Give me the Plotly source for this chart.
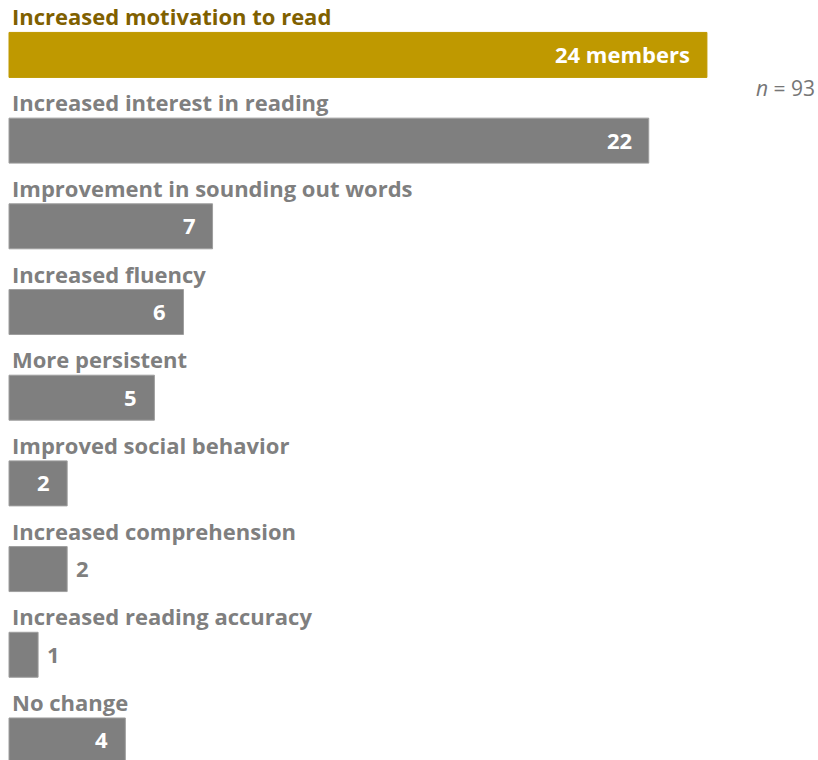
import plotly.graph_objects as go

# Reported changes in reading, counted by number of members
categories = [
    "Increased motivation to read",
    "Increased interest in reading",
    "Improvement in sounding out words",
    "Increased fluency",
    "More persistent",
    "Improved social behavior",
    "Increased comprehension",
    "Increased reading accuracy",
    "No change",
]
counts = [24, 22, 7, 6, 5, 2, 2, 1, 4]
value_labels = ["24 members", "22", "7", "6", "5", "2", "2", "1", "4"]
label_placement = ["inside", "inside", "inside", "inside", "inside",
                   "inside", "outside", "outside", "inside"]
sample_note = "<i>n</i> = 93"

GOLD = "#BF9900"
GOLD_TEXT = "#7F6000"
GRAY = "#7F7F7F"
FONT = "Open Sans"

bar_colors = [GOLD] + [GRAY] * (len(categories) - 1)
line_colors = [GOLD] + ["#9E9E9E"] * (len(categories) - 1)

fig = go.Figure()
fig.add_trace(go.Bar(
    x=counts,
    y=categories,
    orientation="h",
    width=0.525,
    marker=dict(color=bar_colors, line=dict(color=line_colors, width=1)),
    hoverinfo="skip",
))

annotations = []
for i, (cat, val, lab, place) in enumerate(
        zip(categories, counts, value_labels, label_placement)):
    # category title sitting just above its bar
    annotations.append(dict(
        x=0, y=cat, xref="x", yref="y",
        text=f"<b>{cat}</b>",
        xanchor="left", yanchor="middle",
        xshift=1, yshift=38.5,
        showarrow=False,
        font=dict(family=FONT, size=22, color=GOLD_TEXT if i == 0 else GRAY),
    ))
    # value label, inside the bar end or just past it
    if place == "inside":
        annotations.append(dict(
            x=val, y=cat, xref="x", yref="y",
            text=f"<b>{lab}</b>",
            xanchor="right", yanchor="middle",
            xshift=-15, yshift=1,
            showarrow=False,
            font=dict(family=FONT, size=22, color="white"),
        ))
    else:
        annotations.append(dict(
            x=val, y=cat, xref="x", yref="y",
            text=f"<b>{lab}</b>",
            xanchor="left", yanchor="middle",
            xshift=7, yshift=1,
            showarrow=False,
            font=dict(family=FONT, size=22, color=GRAY),
        ))

annotations.append(dict(
    x=1, y=1 - 88 / 760, xref="paper", yref="paper",
    text=sample_note, xanchor="right", yanchor="middle",
    xshift=-1, showarrow=False,
    font=dict(family=FONT, size=21, color="#767676"),
))

fig.update_layout(
    width=818, height=760,
    margin=dict(l=0, r=0, t=0, b=0),
    paper_bgcolor="white", plot_bgcolor="white",
    showlegend=False,
    annotations=annotations,
    xaxis=dict(range=[-9 / 29.08, 809 / 29.08], visible=False, fixedrange=True),
    yaxis=dict(range=[8.228, -0.641], visible=False, fixedrange=True,
               categoryorder="array", categoryarray=categories),
)

fig.write_html("out.html")
